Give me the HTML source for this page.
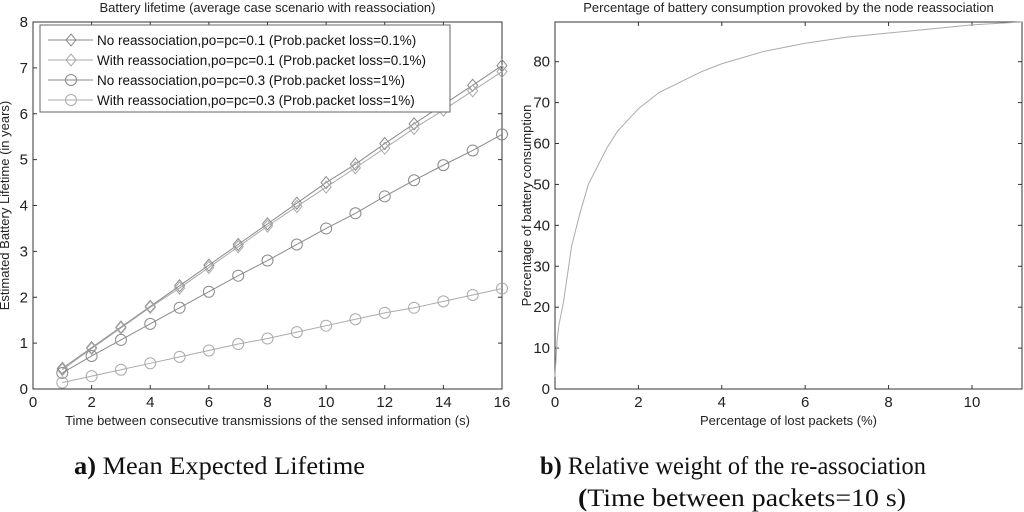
<!DOCTYPE html>
<html><head><meta charset="utf-8">
<style>
body{margin:0;background:#fff;}
svg{display:block;font-family:"Liberation Sans",sans-serif;}
.cap{font-family:"Liberation Serif",serif;font-size:25px;fill:#111;}
</style></head>
<body>
<svg width="1024" height="512" viewBox="0 0 1024 512">
<g id="left"></g>
<g id="right"></g>
<text class="cap" x="74" y="474" textLength="291" lengthAdjust="spacingAndGlyphs"><tspan font-weight="bold">a)</tspan>  Mean Expected Lifetime</text>
<text class="cap" x="540" y="474" textLength="386" lengthAdjust="spacingAndGlyphs"><tspan font-weight="bold">b)</tspan> Relative weight of the re-association</text>
<text class="cap" x="578" y="506" textLength="328" lengthAdjust="spacingAndGlyphs"><tspan font-weight="bold">(</tspan>Time between packets=10 s)</text>
</svg>
<script>
const xsLeft=[1,2,3,4,5,6,7,8,9,10,11,12,13,14,15,16];
const noReassoc01=[0.45,0.9,1.35,1.8,2.25,2.7,3.15,3.6,4.05,4.5,4.9,5.35,5.78,6.2,6.62,7.05];
const withReassoc01=[0.42,0.88,1.33,1.78,2.2,2.65,3.1,3.55,3.98,4.4,4.82,5.25,5.68,6.08,6.5,6.92];
const noReassoc03=[0.35,0.72,1.07,1.42,1.77,2.12,2.47,2.8,3.15,3.5,3.83,4.2,4.55,4.88,5.2,5.55];
const withReassoc03=[0.14,0.28,0.42,0.56,0.7,0.84,0.98,1.1,1.24,1.38,1.52,1.66,1.77,1.91,2.05,2.19];
const leftXTicks=[0,2,4,6,8,10,12,14,16];
const leftYTicks=[0,1,2,3,4,5,6,7,8];
const lostPct=[0,0.05,0.1,0.2,0.3,0.4,0.5,0.6,0.8,1,1.25,1.5,2,2.5,3,3.5,4,5,6,7,8,9,10,11.2];
const consumption=[3,12,16,21,28,35,39,43,50,54,59,63,68.5,72.5,75,77.5,79.5,82.5,84.5,86,87,88,89,89.7];
const rightXTicks=[0,2,4,6,8,10];
const rightYTicks=[0,10,20,30,40,50,60,70,80];
const NS='http://www.w3.org/2000/svg';
function mk(tag,attrs,parent){const e=document.createElementNS(NS,tag);for(const k in attrs)e.setAttribute(k,attrs[k]);parent.appendChild(e);return e;}
function axes(g,box,xmin,xmax,ymin,ymax,xt,yt,title,xl,yl){
  const sx=v=>box.x0+(v-xmin)/(xmax-xmin)*(box.x1-box.x0);
  const sy=v=>box.y1-(v-ymin)/(ymax-ymin)*(box.y1-box.y0);
  const r=mk('rect',{x:box.x0,y:box.y0,width:box.x1-box.x0,height:box.y1-box.y0,fill:'#fff',stroke:'#333','stroke-width':1},g);
  
  xt.forEach(v=>{const x=sx(v);
    mk('line',{x1:x,y1:box.y1,x2:x,y2:box.y1-4,stroke:'#333'},g);
    mk('line',{x1:x,y1:box.y0,x2:x,y2:box.y0+4,stroke:'#333'},g);
    const t=mk('text',{x:x,y:box.y1+18,'text-anchor':'middle','font-size':15,fill:'#222'},g);t.textContent=v;
    });
  yt.forEach(v=>{const y=sy(v);
    mk('line',{x1:box.x0,y1:y,x2:box.x0+4,y2:y,stroke:'#333'},g);
    mk('line',{x1:box.x1,y1:y,x2:box.x1-4,y2:y,stroke:'#333'},g);
    const t=mk('text',{x:box.x0-5,y:y+5,'text-anchor':'end','font-size':15,fill:'#222'},g);t.textContent=v;
    });
  let t=mk('text',{x:(box.x0+box.x1)/2,y:12,'text-anchor':'middle','font-size':13,fill:'#222'},g);t.textContent=title;
  
  t=mk('text',{x:(box.x0+box.x1)/2,y:425,'text-anchor':'middle','font-size':13,fill:'#222'},g);t.textContent=xl;
  
  const cy=(box.y0+box.y1)/2, cx=box.x0-24;
  t=mk('text',{x:cx,y:cy,'text-anchor':'middle','font-size':13,fill:'#222',transform:`rotate(-90 ${cx} ${cy})`},g);t.textContent=yl;
  
  return {sx,sy};
}
function marker(g,type,x,y,col){
  if(type==='d') return mk('path',{d:`M${x} ${y-6}L${x+5} ${y}L${x} ${y+6}L${x-5} ${y}Z`,fill:'none',stroke:col},g);
  return mk('circle',{cx:x,cy:y,r:5.5,fill:'none',stroke:col},g);
}
const L=document.getElementById('left');
const la=axes(L,{x0:33,x1:502,y0:22,y1:389},0,16,0,8,leftXTicks,leftYTicks,
 'Battery lifetime (average case scenario with reassociation)',
 'Time between consecutive transmissions of the sensed information (s)',
 'Estimated Battery Lifetime (in years)');
const series=[
 {v:noReassoc01,m:'d',c:'#8a8a8a',n:'No reassociation,po=pc=0.1 (Prob.packet loss=0.1%)'},
 {v:withReassoc01,m:'d',c:'#aaa',n:'With reassociation,po=pc=0.1 (Prob.packet loss=0.1%)'},
 {v:noReassoc03,m:'c',c:'#8a8a8a',n:'No reassociation,po=pc=0.3 (Prob.packet loss=1%)'},
 {v:withReassoc03,m:'c',c:'#aaa',n:'With reassociation,po=pc=0.3 (Prob.packet loss=1%)'}];
series.forEach((s,i)=>{
  const g=mk('g',{},L);
  
  
  const d=s.v.map((v,j)=>(j?'L':'M')+la.sx(xsLeft[j])+' '+la.sy(v)).join('');
  mk('path',{d:d,fill:'none',stroke:s.c,'stroke-width':1},g);
  s.v.forEach((v,j)=>{const p=marker(g,s.m,la.sx(xsLeft[j]),la.sy(v),s.c);
    });
});
const lg=mk('g',{},L);


mk('rect',{x:40,y:25,width:410,height:87,fill:'#fff',stroke:'#666'},lg);
series.forEach((s,i)=>{
  const y=40+i*20;
  const e=mk('g',{},lg);
  
  
  mk('line',{x1:48,y1:y,x2:93,y2:y,stroke:s.c},e);
  marker(e,s.m,71,y,s.c);
  const t=mk('text',{x:97,y:y+5,'font-size':13.5,fill:'#111'},e);t.textContent=s.n;
});
const R=document.getElementById('right');
const ra=axes(R,{x0:555,x1:1022,y0:22,y1:389},0,11.2,0,89.7,rightXTicks,rightYTicks,
 'Percentage of battery consumption provoked by the node reassociation',
 'Percentage of lost packets (%)','Percentage of battery consumption');
const cd=consumption.map((v,j)=>(j?'L':'M')+ra.sx(lostPct[j])+' '+ra.sy(v)).join('');
const cp=mk('path',{d:cd,fill:'none',stroke:'#aaa','stroke-width':1},R);


</script>
</body></html>
